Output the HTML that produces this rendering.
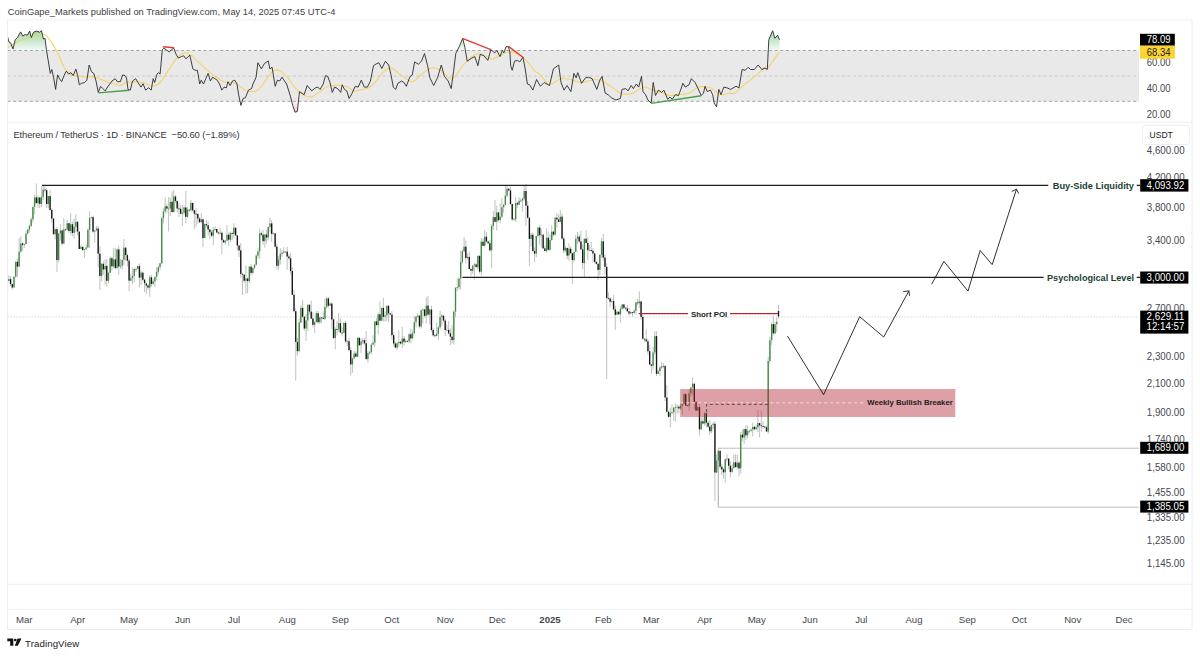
<!DOCTYPE html><html><head><meta charset="utf-8"><style>html,body{margin:0;padding:0;background:#fff;width:1200px;height:656px;overflow:hidden}svg{display:block}text{font-family:"Liberation Sans",sans-serif}</style></head><body><svg width="1200" height="656" viewBox="0 0 1200 656"><defs><linearGradient id="gg" gradientUnits="userSpaceOnUse" x1="0" y1="30" x2="0" y2="50.5"><stop offset="0" stop-color="#7fc98c" stop-opacity="0.8"/><stop offset="1" stop-color="#7fc98c" stop-opacity="0.08"/></linearGradient><linearGradient id="gr" gradientUnits="userSpaceOnUse" x1="0" y1="101.3" x2="0" y2="113"><stop offset="0" stop-color="#f7a8b0" stop-opacity="0.1"/><stop offset="1" stop-color="#f7a8b0" stop-opacity="0.75"/></linearGradient><clipPath id="cTop"><rect x="7" y="20" width="1132" height="30.5"/></clipPath><clipPath id="cBot"><rect x="7" y="101.3" width="1132" height="20"/></clipPath></defs><rect x="0" y="0" width="1200" height="656" fill="#fff"/><text x="7.7" y="14.9" font-size="9.3" fill="#3d3d3d" textLength="327.6" lengthAdjust="spacing">CoinGape_Markets published on TradingView.com, May 14, 2025 07:45 UTC-4</text><rect x="7.5" y="50.5" width="1131.5" height="50.8" fill="#e9e9e9"/><line x1="7.5" y1="50.5" x2="1139" y2="50.5" stroke="#8f9198" stroke-width="0.8" stroke-dasharray="3,2.6"/><line x1="7.5" y1="76.1" x2="1139" y2="76.1" stroke="#c2c3c7" stroke-width="0.8" stroke-dasharray="3,2.6"/><line x1="7.5" y1="101.3" x2="1139" y2="101.3" stroke="#8f9198" stroke-width="0.8" stroke-dasharray="3,2.6"/><polygon points="7.3,50.5 7.3,36.0 9.1,42.1 10.7,42.9 13.0,49.0 15.2,39.8 17.5,37.5 20.6,31.9 22.9,36.0 25.2,34.5 27.4,35.2 29.7,31.0 31.3,37.5 33.5,32.2 36.6,31.1 39.6,32.2 41.5,30.7 43.4,39.0 45.0,38.3 46.5,50.5 48.8,64.2 50.3,73.4 51.8,69.5 53.7,77.9 55.6,89.4 57.6,74.9 59.5,78.7 61.7,81.7 64.0,75.6 66.3,71.1 68.6,74.1 70.9,72.6 73.2,75.6 75.9,69.1 77.7,75.6 79.3,84.8 81.6,83.3 84.6,82.5 86.9,80.2 89.2,65.0 91.5,71.8 93.8,73.4 96.0,81.0 98.3,92.4 100.6,86.3 102.9,88.6 105.2,90.9 107.5,87.1 109.8,84.0 112.0,81.0 115.1,78.7 117.4,81.7 120.4,81.7 122.7,74.9 125.0,75.6 126.5,77.9 128.0,89.4 130.3,90.1 132.6,81.0 135.7,78.7 138.0,82.5 141.0,87.1 143.0,83.7 145.6,90.1 148.6,87.8 151.2,90.1 153.2,78.7 154.7,82.5 157.0,74.1 158.5,72.6 160.1,74.1 162.3,49.7 163.9,48.2 166.2,49.7 169.2,52.0 171.5,49.7 173.8,48.2 176.1,54.3 178.4,58.1 181.4,56.6 183.7,55.8 186.0,58.9 189.8,55.1 192.8,68.8 195.1,70.3 197.4,70.3 199.7,84.0 201.2,80.2 203.5,84.0 205.8,78.7 208.1,73.4 210.4,81.0 212.7,77.2 214.9,78.7 217.2,80.2 219.5,84.0 221.8,90.1 224.1,87.1 226.4,87.8 227.9,81.7 230.2,85.5 232.5,81.0 234.8,80.2 237.0,84.0 238.6,94.7 240.9,105.4 243.1,98.5 245.4,97.7 248.5,90.1 251.5,88.6 253.0,84.0 256.1,77.2 257.9,62.7 261.4,68.8 264.5,63.4 268.3,60.9 269.8,68.8 272.1,67.3 275.2,86.3 277.4,80.2 279.7,81.0 282.0,77.2 286.6,84.0 290.4,96.2 292.7,105.4 295.0,112.2 297.3,111.5 299.5,91.6 304.1,94.7 307.2,85.5 311.7,90.9 315.5,87.8 317.8,87.1 320.1,89.4 323.2,84.0 325.5,75.6 327.7,76.4 330.0,82.5 332.3,92.4 334.6,87.1 337.7,88.6 340.7,92.4 342.2,84.8 344.5,89.4 346.8,90.9 349.1,98.5 352.1,93.2 355.2,86.3 358.2,87.1 361.3,80.2 364.3,87.1 367.4,87.1 370.4,81.0 373.5,65.7 375.8,64.2 378.8,62.7 381.9,68.5 385.4,61.2 388.7,65.0 391.0,74.9 393.3,87.1 395.6,89.4 397.9,83.3 401.7,81.0 404.0,82.5 406.3,86.3 410.1,76.4 412.3,74.9 414.6,61.9 418.4,64.2 421.5,61.2 424.5,53.5 427.6,65.7 429.9,77.9 433.7,85.5 437.5,77.9 441.3,65.0 444.4,76.4 448.2,81.0 451.2,88.6 453.5,71.8 455.8,53.5 459.6,45.9 462.7,38.3 464.9,47.4 467.2,61.2 471.8,58.1 474.8,56.6 477.9,65.7 480.2,54.3 484.0,55.8 487.8,60.4 490.9,49.7 494.7,52.8 497.0,50.5 500.0,56.6 502.3,50.5 503.8,52.8 506.1,46.7 508.4,46.7 509.9,52.0 510.7,65.7 512.2,70.3 514.5,61.2 517.5,60.4 519.8,61.9 522.9,57.3 525.2,68.8 527.4,84.0 529.7,84.8 532.8,90.1 536.6,79.5 540.4,86.3 544.2,82.5 549.5,85.5 553.4,68.8 558.7,65.0 561.0,82.5 564.0,90.1 567.1,85.5 570.9,91.6 573.9,73.4 576.2,77.9 577.7,72.6 581.6,83.3 585.4,77.9 588.4,77.2 592.2,78.7 596.8,89.4 599.8,80.2 602.1,76.4 605.2,93.2 608.2,94.7 611.3,97.7 615.9,100.0 620.4,98.5 622.0,89.4 625.8,88.6 628.0,90.9 631.1,85.5 633.4,88.6 636.4,84.0 638.7,87.1 641.5,76.4 643.0,91.6 645.6,94.7 647.9,100.0 651.2,103.1 653.2,82.5 655.5,95.5 658.5,90.1 661.6,92.4 663.9,90.1 667.7,99.3 670.0,97.0 672.3,99.3 675.3,94.7 678.4,95.5 680.6,90.1 682.9,83.3 685.2,87.1 689.0,84.8 691.3,78.7 695.1,82.5 697.4,87.1 701.2,95.5 703.5,93.2 705.0,86.3 707.3,91.6 710.4,90.1 712.7,94.7 714.2,103.1 716.5,106.9 718.8,89.4 721.0,94.7 723.8,87.1 726.9,87.8 730.7,89.4 736.0,86.3 739.0,87.8 742.1,69.5 745.2,70.3 748.2,67.3 750.5,69.5 754.3,69.5 758.1,65.0 761.9,69.5 765.0,68.0 767.3,69.5 768.8,39.8 772.6,30.7 774.9,38.3 777.6,35.2 779.5,39.8 779.5,50.5" fill="url(#gg)" clip-path="url(#cTop)"/><polygon points="7.3,101.3 7.3,36.0 9.1,42.1 10.7,42.9 13.0,49.0 15.2,39.8 17.5,37.5 20.6,31.9 22.9,36.0 25.2,34.5 27.4,35.2 29.7,31.0 31.3,37.5 33.5,32.2 36.6,31.1 39.6,32.2 41.5,30.7 43.4,39.0 45.0,38.3 46.5,50.5 48.8,64.2 50.3,73.4 51.8,69.5 53.7,77.9 55.6,89.4 57.6,74.9 59.5,78.7 61.7,81.7 64.0,75.6 66.3,71.1 68.6,74.1 70.9,72.6 73.2,75.6 75.9,69.1 77.7,75.6 79.3,84.8 81.6,83.3 84.6,82.5 86.9,80.2 89.2,65.0 91.5,71.8 93.8,73.4 96.0,81.0 98.3,92.4 100.6,86.3 102.9,88.6 105.2,90.9 107.5,87.1 109.8,84.0 112.0,81.0 115.1,78.7 117.4,81.7 120.4,81.7 122.7,74.9 125.0,75.6 126.5,77.9 128.0,89.4 130.3,90.1 132.6,81.0 135.7,78.7 138.0,82.5 141.0,87.1 143.0,83.7 145.6,90.1 148.6,87.8 151.2,90.1 153.2,78.7 154.7,82.5 157.0,74.1 158.5,72.6 160.1,74.1 162.3,49.7 163.9,48.2 166.2,49.7 169.2,52.0 171.5,49.7 173.8,48.2 176.1,54.3 178.4,58.1 181.4,56.6 183.7,55.8 186.0,58.9 189.8,55.1 192.8,68.8 195.1,70.3 197.4,70.3 199.7,84.0 201.2,80.2 203.5,84.0 205.8,78.7 208.1,73.4 210.4,81.0 212.7,77.2 214.9,78.7 217.2,80.2 219.5,84.0 221.8,90.1 224.1,87.1 226.4,87.8 227.9,81.7 230.2,85.5 232.5,81.0 234.8,80.2 237.0,84.0 238.6,94.7 240.9,105.4 243.1,98.5 245.4,97.7 248.5,90.1 251.5,88.6 253.0,84.0 256.1,77.2 257.9,62.7 261.4,68.8 264.5,63.4 268.3,60.9 269.8,68.8 272.1,67.3 275.2,86.3 277.4,80.2 279.7,81.0 282.0,77.2 286.6,84.0 290.4,96.2 292.7,105.4 295.0,112.2 297.3,111.5 299.5,91.6 304.1,94.7 307.2,85.5 311.7,90.9 315.5,87.8 317.8,87.1 320.1,89.4 323.2,84.0 325.5,75.6 327.7,76.4 330.0,82.5 332.3,92.4 334.6,87.1 337.7,88.6 340.7,92.4 342.2,84.8 344.5,89.4 346.8,90.9 349.1,98.5 352.1,93.2 355.2,86.3 358.2,87.1 361.3,80.2 364.3,87.1 367.4,87.1 370.4,81.0 373.5,65.7 375.8,64.2 378.8,62.7 381.9,68.5 385.4,61.2 388.7,65.0 391.0,74.9 393.3,87.1 395.6,89.4 397.9,83.3 401.7,81.0 404.0,82.5 406.3,86.3 410.1,76.4 412.3,74.9 414.6,61.9 418.4,64.2 421.5,61.2 424.5,53.5 427.6,65.7 429.9,77.9 433.7,85.5 437.5,77.9 441.3,65.0 444.4,76.4 448.2,81.0 451.2,88.6 453.5,71.8 455.8,53.5 459.6,45.9 462.7,38.3 464.9,47.4 467.2,61.2 471.8,58.1 474.8,56.6 477.9,65.7 480.2,54.3 484.0,55.8 487.8,60.4 490.9,49.7 494.7,52.8 497.0,50.5 500.0,56.6 502.3,50.5 503.8,52.8 506.1,46.7 508.4,46.7 509.9,52.0 510.7,65.7 512.2,70.3 514.5,61.2 517.5,60.4 519.8,61.9 522.9,57.3 525.2,68.8 527.4,84.0 529.7,84.8 532.8,90.1 536.6,79.5 540.4,86.3 544.2,82.5 549.5,85.5 553.4,68.8 558.7,65.0 561.0,82.5 564.0,90.1 567.1,85.5 570.9,91.6 573.9,73.4 576.2,77.9 577.7,72.6 581.6,83.3 585.4,77.9 588.4,77.2 592.2,78.7 596.8,89.4 599.8,80.2 602.1,76.4 605.2,93.2 608.2,94.7 611.3,97.7 615.9,100.0 620.4,98.5 622.0,89.4 625.8,88.6 628.0,90.9 631.1,85.5 633.4,88.6 636.4,84.0 638.7,87.1 641.5,76.4 643.0,91.6 645.6,94.7 647.9,100.0 651.2,103.1 653.2,82.5 655.5,95.5 658.5,90.1 661.6,92.4 663.9,90.1 667.7,99.3 670.0,97.0 672.3,99.3 675.3,94.7 678.4,95.5 680.6,90.1 682.9,83.3 685.2,87.1 689.0,84.8 691.3,78.7 695.1,82.5 697.4,87.1 701.2,95.5 703.5,93.2 705.0,86.3 707.3,91.6 710.4,90.1 712.7,94.7 714.2,103.1 716.5,106.9 718.8,89.4 721.0,94.7 723.8,87.1 726.9,87.8 730.7,89.4 736.0,86.3 739.0,87.8 742.1,69.5 745.2,70.3 748.2,67.3 750.5,69.5 754.3,69.5 758.1,65.0 761.9,69.5 765.0,68.0 767.3,69.5 768.8,39.8 772.6,30.7 774.9,38.3 777.6,35.2 779.5,39.8 779.5,101.3" fill="url(#gr)" clip-path="url(#cBot)"/><path d="M7.3 48.2C8.6 47.3 12.6 44.3 15.2 42.9C17.8 41.5 20.3 40.7 22.9 39.8C25.4 38.9 28.2 38.3 30.5 37.5C32.8 36.7 34.7 35.8 36.6 35.2C38.5 34.6 40.4 33.7 41.9 33.7C43.4 33.7 44.1 33.7 45.7 35.2C47.4 36.7 49.8 39.9 51.8 42.9C53.8 45.9 55.9 49.4 57.9 53.5C59.9 57.6 62.0 63.9 64.0 67.3C66.0 70.7 68.1 72.7 70.1 74.1C72.1 75.5 73.9 75.2 76.2 75.6C78.5 76.0 81.2 76.5 83.8 76.7C86.3 76.9 89.2 76.5 91.5 76.7C93.8 76.9 95.1 77.1 97.6 77.9C100.1 78.7 103.9 80.7 106.7 81.7C109.5 82.7 112.0 83.4 114.3 84.0C116.6 84.6 118.4 85.8 120.4 85.5C122.4 85.2 123.7 83.1 126.5 82.5C129.3 81.9 134.1 81.6 137.2 81.7C140.2 81.8 142.3 82.5 144.8 83.3C147.3 84.1 149.9 86.4 152.4 86.3C154.9 86.2 157.8 84.7 160.1 82.5C162.4 80.3 164.2 76.5 166.2 73.4C168.2 70.4 170.4 66.9 172.3 64.2C174.2 61.5 175.6 59.2 177.6 57.3C179.6 55.4 182.3 53.2 184.5 52.8C186.7 52.4 188.2 53.6 190.5 55.1C192.8 56.6 195.4 59.4 198.2 61.9C201.0 64.4 204.2 67.8 207.3 70.3C210.4 72.8 213.7 75.3 216.5 77.2C219.3 79.1 221.0 80.7 224.1 81.7C227.2 82.7 232.0 82.4 234.8 83.3C237.6 84.2 238.9 85.8 240.9 87.1C242.9 88.4 244.5 90.3 247.0 90.9C249.5 91.5 253.6 91.8 256.1 90.9C258.6 90.0 260.2 87.9 262.2 85.5C264.2 83.1 266.3 78.9 268.3 76.4C270.3 73.9 272.4 71.2 274.4 70.3C276.4 69.4 278.2 69.8 280.5 71.1C282.8 72.4 285.6 75.0 288.1 77.9C290.6 80.8 293.1 85.8 295.7 88.6C298.2 91.4 300.8 93.3 303.4 94.7C305.9 96.1 308.5 97.4 311.0 97.0C313.5 96.6 316.1 94.1 318.6 92.4C321.1 90.8 323.9 88.2 326.2 87.1C328.5 85.9 329.8 85.8 332.3 85.5C334.9 85.2 338.9 85.2 341.5 85.5C344.1 85.8 345.6 86.2 347.6 87.1C349.6 88.0 351.7 90.4 353.7 90.9C355.7 91.4 357.3 90.6 359.8 90.1C362.3 89.6 366.4 89.1 368.9 87.8C371.4 86.5 372.7 85.0 375.0 82.5C377.3 80.0 379.9 75.0 382.6 72.6C385.3 70.2 387.9 67.6 391.0 68.0C394.1 68.4 397.3 72.6 400.9 74.9C404.4 77.2 409.0 81.7 412.3 81.7C415.6 81.7 417.5 77.2 420.7 74.9C423.9 72.6 428.1 68.8 431.4 68.0C434.7 67.2 437.1 68.5 440.5 70.3C443.9 72.1 448.2 79.6 452.0 78.7C455.8 77.8 459.5 69.1 463.4 65.0C467.3 60.9 472.0 55.8 475.6 54.3C479.2 52.8 482.2 55.0 484.8 55.8C487.4 56.6 488.4 58.9 490.9 58.9C493.4 58.9 497.0 56.9 500.0 55.8C503.0 54.6 505.3 51.8 509.1 52.0C512.9 52.2 518.7 54.2 522.9 57.3C527.1 60.3 531.2 67.2 534.3 70.3C537.3 73.3 538.7 73.2 541.2 75.6C543.7 78.0 546.3 84.3 549.5 84.8C552.7 85.3 556.8 79.6 560.2 78.7C563.6 77.8 566.7 78.9 570.1 79.5C573.5 80.1 576.7 82.5 580.8 82.5C584.9 82.5 590.7 79.6 594.5 79.5C598.3 79.4 600.1 79.9 603.7 81.7C607.3 83.5 612.9 88.1 615.9 90.1C618.9 92.1 619.2 93.4 622.0 93.9C624.8 94.4 628.9 94.3 632.6 93.2C636.3 92.1 640.7 87.6 644.0 87.1C647.3 86.6 649.5 89.2 652.4 90.1C655.3 91.0 658.8 91.5 661.6 92.4C664.4 93.3 666.4 95.1 669.2 95.5C672.0 95.9 675.1 95.1 678.4 94.7C681.7 94.3 685.7 94.5 689.0 93.2C692.3 91.9 695.2 88.1 698.2 87.1C701.2 86.1 704.8 86.7 707.3 87.1C709.8 87.5 711.4 88.1 713.4 89.4C715.4 90.7 717.0 94.1 719.5 94.7C722.0 95.3 726.2 93.5 728.7 93.2C731.2 93.0 732.8 94.1 734.8 93.2C736.8 92.3 738.9 89.6 740.9 87.8C742.9 86.0 744.6 84.4 747.0 82.5C749.4 80.6 752.2 78.8 755.1 76.4C758.0 74.0 762.2 69.3 764.2 68.0C766.2 66.7 765.8 69.8 767.3 68.5C768.8 67.2 771.4 63.1 773.4 60.4C775.4 57.6 778.5 53.4 779.5 52.0" fill="none" stroke="#f5d262" stroke-width="1.05"/><polyline points="7.3,36.0 9.1,42.1 10.7,42.9 13.0,49.0 15.2,39.8 17.5,37.5 20.6,31.9 22.9,36.0 25.2,34.5 27.4,35.2 29.7,31.0 31.3,37.5 33.5,32.2 36.6,31.1 39.6,32.2 41.5,30.7 43.4,39.0 45.0,38.3 46.5,50.5 48.8,64.2 50.3,73.4 51.8,69.5 53.7,77.9 55.6,89.4 57.6,74.9 59.5,78.7 61.7,81.7 64.0,75.6 66.3,71.1 68.6,74.1 70.9,72.6 73.2,75.6 75.9,69.1 77.7,75.6 79.3,84.8 81.6,83.3 84.6,82.5 86.9,80.2 89.2,65.0 91.5,71.8 93.8,73.4 96.0,81.0 98.3,92.4 100.6,86.3 102.9,88.6 105.2,90.9 107.5,87.1 109.8,84.0 112.0,81.0 115.1,78.7 117.4,81.7 120.4,81.7 122.7,74.9 125.0,75.6 126.5,77.9 128.0,89.4 130.3,90.1 132.6,81.0 135.7,78.7 138.0,82.5 141.0,87.1 143.0,83.7 145.6,90.1 148.6,87.8 151.2,90.1 153.2,78.7 154.7,82.5 157.0,74.1 158.5,72.6 160.1,74.1 162.3,49.7 163.9,48.2 166.2,49.7 169.2,52.0 171.5,49.7 173.8,48.2 176.1,54.3 178.4,58.1 181.4,56.6 183.7,55.8 186.0,58.9 189.8,55.1 192.8,68.8 195.1,70.3 197.4,70.3 199.7,84.0 201.2,80.2 203.5,84.0 205.8,78.7 208.1,73.4 210.4,81.0 212.7,77.2 214.9,78.7 217.2,80.2 219.5,84.0 221.8,90.1 224.1,87.1 226.4,87.8 227.9,81.7 230.2,85.5 232.5,81.0 234.8,80.2 237.0,84.0 238.6,94.7 240.9,105.4 243.1,98.5 245.4,97.7 248.5,90.1 251.5,88.6 253.0,84.0 256.1,77.2 257.9,62.7 261.4,68.8 264.5,63.4 268.3,60.9 269.8,68.8 272.1,67.3 275.2,86.3 277.4,80.2 279.7,81.0 282.0,77.2 286.6,84.0 290.4,96.2 292.7,105.4 295.0,112.2 297.3,111.5 299.5,91.6 304.1,94.7 307.2,85.5 311.7,90.9 315.5,87.8 317.8,87.1 320.1,89.4 323.2,84.0 325.5,75.6 327.7,76.4 330.0,82.5 332.3,92.4 334.6,87.1 337.7,88.6 340.7,92.4 342.2,84.8 344.5,89.4 346.8,90.9 349.1,98.5 352.1,93.2 355.2,86.3 358.2,87.1 361.3,80.2 364.3,87.1 367.4,87.1 370.4,81.0 373.5,65.7 375.8,64.2 378.8,62.7 381.9,68.5 385.4,61.2 388.7,65.0 391.0,74.9 393.3,87.1 395.6,89.4 397.9,83.3 401.7,81.0 404.0,82.5 406.3,86.3 410.1,76.4 412.3,74.9 414.6,61.9 418.4,64.2 421.5,61.2 424.5,53.5 427.6,65.7 429.9,77.9 433.7,85.5 437.5,77.9 441.3,65.0 444.4,76.4 448.2,81.0 451.2,88.6 453.5,71.8 455.8,53.5 459.6,45.9 462.7,38.3 464.9,47.4 467.2,61.2 471.8,58.1 474.8,56.6 477.9,65.7 480.2,54.3 484.0,55.8 487.8,60.4 490.9,49.7 494.7,52.8 497.0,50.5 500.0,56.6 502.3,50.5 503.8,52.8 506.1,46.7 508.4,46.7 509.9,52.0 510.7,65.7 512.2,70.3 514.5,61.2 517.5,60.4 519.8,61.9 522.9,57.3 525.2,68.8 527.4,84.0 529.7,84.8 532.8,90.1 536.6,79.5 540.4,86.3 544.2,82.5 549.5,85.5 553.4,68.8 558.7,65.0 561.0,82.5 564.0,90.1 567.1,85.5 570.9,91.6 573.9,73.4 576.2,77.9 577.7,72.6 581.6,83.3 585.4,77.9 588.4,77.2 592.2,78.7 596.8,89.4 599.8,80.2 602.1,76.4 605.2,93.2 608.2,94.7 611.3,97.7 615.9,100.0 620.4,98.5 622.0,89.4 625.8,88.6 628.0,90.9 631.1,85.5 633.4,88.6 636.4,84.0 638.7,87.1 641.5,76.4 643.0,91.6 645.6,94.7 647.9,100.0 651.2,103.1 653.2,82.5 655.5,95.5 658.5,90.1 661.6,92.4 663.9,90.1 667.7,99.3 670.0,97.0 672.3,99.3 675.3,94.7 678.4,95.5 680.6,90.1 682.9,83.3 685.2,87.1 689.0,84.8 691.3,78.7 695.1,82.5 697.4,87.1 701.2,95.5 703.5,93.2 705.0,86.3 707.3,91.6 710.4,90.1 712.7,94.7 714.2,103.1 716.5,106.9 718.8,89.4 721.0,94.7 723.8,87.1 726.9,87.8 730.7,89.4 736.0,86.3 739.0,87.8 742.1,69.5 745.2,70.3 748.2,67.3 750.5,69.5 754.3,69.5 758.1,65.0 761.9,69.5 765.0,68.0 767.3,69.5 768.8,39.8 772.6,30.7 774.9,38.3 777.6,35.2 779.5,39.8" fill="none" stroke="#2b2b2b" stroke-width="0.9" stroke-linejoin="round"/><line x1="98.3" y1="92.9" x2="129.3" y2="90.2" stroke="#43a047" stroke-width="1.4"/><line x1="162.8" y1="46.7" x2="174.1" y2="47.7" stroke="#e53935" stroke-width="1.4"/><line x1="462.3" y1="38.3" x2="490.9" y2="49.7" stroke="#e53935" stroke-width="1.4"/><line x1="508.4" y1="46.4" x2="523.6" y2="57.8" stroke="#e53935" stroke-width="1.4"/><line x1="651.2" y1="103.4" x2="701.2" y2="95.8" stroke="#43a047" stroke-width="1.4"/><text x="1146.8" y="66.0" font-size="10" fill="#454852" textLength="23.7" lengthAdjust="spacingAndGlyphs">60.00</text><text x="1146.8" y="91.7" font-size="10" fill="#454852" textLength="23.7" lengthAdjust="spacingAndGlyphs">40.00</text><text x="1146.8" y="117.5" font-size="10" fill="#454852" textLength="23.7" lengthAdjust="spacingAndGlyphs">20.00</text><rect x="1140" y="33.8" width="34.8" height="11.9" fill="#000"/><text x="1146.8" y="43.2" font-size="10" fill="#fff" textLength="23.7" lengthAdjust="spacingAndGlyphs">78.09</text><rect x="1140" y="45.7" width="34.8" height="13" fill="#fbd432"/><text x="1146.8" y="55.9" font-size="10" fill="#222" textLength="23.7" lengthAdjust="spacingAndGlyphs">68.34</text><rect x="7.5" y="19.9" width="1184.5" height="609.7" fill="none" stroke="#eceef2" stroke-width="1"/><line x1="7.5" y1="122.2" x2="1192" y2="122.2" stroke="#eceef2" stroke-width="1"/><line x1="7.5" y1="584.3" x2="1192" y2="584.3" stroke="#eceef2" stroke-width="1"/><line x1="7.5" y1="609.3" x2="1192" y2="609.3" stroke="#eceef2" stroke-width="1"/><text x="13.5" y="137.8" font-size="9.4" fill="#33353a" textLength="226" lengthAdjust="spacing" xml:space="preserve">Ethereum / TetherUS · 1D · BINANCE  −50.60 (−1.89%)</text><rect x="1142.4" y="125.4" width="47.3" height="19.1" rx="3" fill="#fff" stroke="#e9eaee" stroke-width="0.8"/><text x="1149.5" y="138.1" font-size="9.4" fill="#222" textLength="23.3" lengthAdjust="spacingAndGlyphs">USDT</text><text x="1146.8" y="154.3" font-size="10" fill="#454852" textLength="37.9" lengthAdjust="spacingAndGlyphs">4,600.00</text><text x="1146.8" y="181.2" font-size="10" fill="#454852" textLength="37.9" lengthAdjust="spacingAndGlyphs">4,200.00</text><text x="1146.8" y="210.9" font-size="10" fill="#454852" textLength="37.9" lengthAdjust="spacingAndGlyphs">3,800.00</text><text x="1146.8" y="243.9" font-size="10" fill="#454852" textLength="37.9" lengthAdjust="spacingAndGlyphs">3,400.00</text><text x="1146.8" y="312.3" font-size="10" fill="#454852" textLength="37.9" lengthAdjust="spacingAndGlyphs">2,700.00</text><text x="1146.8" y="359.8" font-size="10" fill="#454852" textLength="37.9" lengthAdjust="spacingAndGlyphs">2,300.00</text><text x="1146.8" y="386.8" font-size="10" fill="#454852" textLength="37.9" lengthAdjust="spacingAndGlyphs">2,100.00</text><text x="1146.8" y="416.4" font-size="10" fill="#454852" textLength="37.9" lengthAdjust="spacingAndGlyphs">1,900.00</text><text x="1146.8" y="442.5" font-size="10" fill="#454852" textLength="37.9" lengthAdjust="spacingAndGlyphs">1,740.00</text><text x="1146.8" y="471.1" font-size="10" fill="#454852" textLength="37.9" lengthAdjust="spacingAndGlyphs">1,580.00</text><text x="1146.8" y="495.6" font-size="10" fill="#454852" textLength="37.9" lengthAdjust="spacingAndGlyphs">1,455.00</text><text x="1146.8" y="521.1" font-size="10" fill="#454852" textLength="37.9" lengthAdjust="spacingAndGlyphs">1,335.00</text><text x="1146.8" y="544.2" font-size="10" fill="#454852" textLength="37.9" lengthAdjust="spacingAndGlyphs">1,235.00</text><text x="1146.8" y="566.6" font-size="10" fill="#454852" textLength="37.9" lengthAdjust="spacingAndGlyphs">1,145.00</text><line x1="7.5" y1="317" x2="1139" y2="317" stroke="#cfd1d5" stroke-width="0.9" stroke-dasharray="1.6,1.4"/><polyline points="1139,448.2 718.3,448.2 718.3,507.2 1139,507.2" fill="none" stroke="#bdbdbd" stroke-width="1"/><path d="M8.84 275.3V281.3M10.56 276.3V285.7M12.27 283.9V289.5M13.99 276.4V287.8M15.71 261.4V277.6M17.43 258.3V277.2M19.15 238.2V266.8M20.86 236.4V252.9M22.58 242.1V250.9M24.30 243.4V247.9M26.02 230.6V244.3M27.74 229.2V234.3M29.45 224.5V232.6M31.17 217.2V227.2M32.89 206.0V222.4M34.61 194.7V214.5M36.33 183.3V203.6M38.04 195.5V208.2M39.76 197.3V207.9M41.48 186.0V207.0M43.20 185.3V200.2M44.92 186.4V192.4M46.63 187.9V208.0M48.35 195.8V208.4M50.07 189.9V211.1M51.79 208.2V222.6M53.51 217.9V234.6M55.22 228.9V239.5M56.94 227.3V272.0M58.66 233.1V262.2M60.38 224.4V240.6M62.10 229.4V245.5M63.81 218.0V244.2M65.53 228.7V230.4M67.25 220.0V230.5M68.97 223.2V232.9M70.69 213.2V235.2M72.40 221.6V236.4M74.12 218.6V238.4M75.84 214.4V232.6M77.56 221.4V235.2M79.28 231.3V249.2M80.99 245.3V249.1M82.71 246.8V250.7M84.43 249.1V257.6M86.15 244.1V249.8M87.87 228.3V248.0M89.58 211.3V247.8M91.30 216.9V218.5M93.02 215.7V232.7M94.74 230.4V242.5M96.46 225.8V231.1M98.17 225.8V267.5M99.89 246.5V290.0M101.61 263.1V281.2M103.33 261.1V274.9M105.05 259.9V284.6M106.76 259.0V286.7M108.48 271.8V283.4M110.20 256.6V272.9M111.92 257.1V270.6M113.64 248.1V268.5M115.35 248.3V269.7M117.07 248.5V269.0M118.79 245.8V274.8M120.51 259.1V268.8M122.23 259.6V269.6M123.94 239.1V265.4M125.66 247.0V260.7M127.38 253.6V266.4M129.10 258.8V291.2M130.82 273.6V281.3M132.53 267.4V284.1M134.25 268.4V282.2M135.97 267.4V271.9M137.69 265.6V269.0M139.41 263.4V287.4M141.12 270.6V285.0M142.84 271.6V281.0M144.56 278.7V292.0M146.28 282.9V294.1M148.00 283.9V289.8M149.71 275.4V296.6M151.43 274.8V286.7M153.15 279.2V284.7M154.87 276.9V287.1M156.59 267.3V279.9M158.30 265.7V274.6M160.02 262.9V270.1M161.74 217.2V264.5M163.46 208.4V223.4M165.18 197.5V213.5M166.89 203.7V212.8M168.61 197.0V231.5M170.33 197.5V216.0M172.05 191.6V213.0M173.77 189.9V212.5M175.48 195.0V203.0M177.20 200.6V212.4M178.92 202.9V217.0M180.64 204.9V214.4M182.36 205.0V226.1M184.07 205.7V215.1M185.79 191.0V223.3M187.51 207.1V218.3M189.23 208.9V211.5M190.95 199.9V212.2M192.66 202.8V211.7M194.38 210.0V228.9M196.10 208.2V226.7M197.82 213.8V223.9M199.54 217.4V222.7M201.25 213.2V223.3M202.97 218.8V247.1M204.69 223.7V238.2M206.41 219.9V227.3M208.13 221.6V235.3M209.84 229.1V239.3M211.56 230.1V237.2M213.28 227.1V245.1M215.00 226.3V231.0M216.72 228.6V233.2M218.43 231.2V234.6M220.15 227.7V234.5M221.87 231.3V254.0M223.59 239.0V242.5M225.31 240.0V244.8M227.02 225.0V241.2M228.74 232.4V246.2M230.46 231.5V242.2M232.18 231.7V240.5M233.90 223.3V237.7M235.61 227.5V235.9M237.33 235.2V250.4M239.05 245.2V257.0M240.77 243.1V277.9M242.49 272.6V295.0M244.20 274.1V282.9M245.92 265.6V293.6M247.64 277.5V293.3M249.36 266.6V282.9M251.08 264.3V275.4M252.79 267.8V274.0M254.51 264.4V269.6M256.23 254.3V265.7M257.95 248.1V258.3M259.67 228.7V258.9M261.38 231.5V236.2M263.10 230.1V244.8M264.82 234.3V247.6M266.54 229.7V243.5M268.26 226.5V240.2M269.97 217.5V233.3M271.69 220.3V241.9M273.41 232.5V234.0M275.13 232.9V248.2M276.85 243.7V269.4M278.56 256.1V269.9M280.28 248.1V264.6M282.00 250.2V256.6M283.72 246.9V253.8M285.44 251.3V252.8M287.15 246.7V269.9M288.87 254.1V260.0M290.59 253.1V274.4M292.31 267.3V295.1M294.03 289.9V312.5M295.74 308.2V380.7M297.46 337.9V355.4M299.18 318.5V352.4M300.90 305.5V323.0M302.62 299.7V317.5M304.33 316.7V330.7M306.05 314.2V340.9M307.77 304.0V330.9M309.49 304.0V314.7M311.21 300.6V319.0M312.92 312.3V327.4M314.64 321.2V333.0M316.36 310.8V322.2M318.08 311.0V323.5M319.80 316.8V323.7M321.51 317.4V322.8M323.23 311.3V319.3M324.95 298.5V320.1M326.67 296.7V308.7M328.39 296.8V307.7M330.10 302.4V305.8M331.82 302.3V329.3M333.54 318.4V339.1M335.26 327.4V349.3M336.98 321.3V335.3M338.69 313.0V332.2M340.41 318.6V332.7M342.13 327.5V336.4M343.85 321.7V332.9M345.57 320.6V342.9M347.28 340.1V346.2M349.00 337.5V351.4M350.72 347.2V375.6M352.44 357.5V372.9M354.16 351.0V359.3M355.87 351.4V357.2M357.59 337.1V357.0M359.31 336.9V346.2M361.03 338.3V353.0M362.75 338.2V344.0M364.46 338.4V344.8M366.18 331.0V359.6M367.90 350.7V362.7M369.62 350.9V354.2M371.34 342.9V354.2M373.05 335.3V344.8M374.77 321.4V347.1M376.49 318.3V325.2M378.21 312.5V334.6M379.93 301.4V321.6M381.64 307.5V321.2M383.36 297.7V321.3M385.08 311.6V321.9M386.80 305.6V320.9M388.52 304.8V322.4M390.23 312.8V315.6M391.95 310.9V339.5M393.67 332.5V346.6M395.39 341.7V348.4M397.11 342.0V349.7M398.82 330.4V347.0M400.54 341.0V344.5M402.26 326.9V347.9M403.98 336.0V345.8M405.70 339.0V342.9M407.41 340.0V341.3M409.13 332.8V343.2M410.85 328.6V343.3M412.57 330.6V339.3M414.29 316.1V334.0M416.00 315.8V327.4M417.72 313.2V317.5M419.44 314.8V328.4M421.16 309.7V328.2M422.88 308.6V323.4M424.59 309.2V317.6M426.31 297.3V323.6M428.03 295.9V316.0M429.75 308.7V324.4M431.47 305.5V331.7M433.18 328.3V336.8M434.90 334.2V337.5M436.62 322.6V336.4M438.34 325.8V340.0M440.06 310.9V329.4M441.77 314.0V326.2M443.49 314.9V322.2M445.21 318.7V336.0M446.93 324.7V330.1M448.65 320.9V334.5M450.36 328.5V345.0M452.08 325.3V343.6M453.80 310.5V344.6M455.52 287.7V316.7M457.24 278.3V291.3M458.95 277.6V289.5M460.67 250.6V289.6M462.39 249.3V264.4M464.11 237.2V252.0M465.83 240.5V263.4M467.54 253.6V259.5M469.26 251.4V269.3M470.98 268.2V275.8M472.70 265.4V273.6M474.42 263.0V279.7M476.13 263.3V267.4M477.85 255.5V269.6M479.57 255.0V273.6M481.29 238.2V275.7M483.01 237.8V246.3M484.72 230.1V247.1M486.44 231.9V242.4M488.16 240.6V244.3M489.88 240.2V251.8M491.60 224.2V267.9M493.31 211.2V229.8M495.03 200.2V222.2M496.75 205.8V230.7M498.47 212.3V221.4M500.19 203.6V223.3M501.90 197.8V218.3M503.62 203.8V212.7M505.34 185.2V205.3M507.06 186.0V197.4M508.78 188.2V191.3M510.49 186.7V204.7M512.21 203.9V220.8M513.93 218.0V220.2M515.65 197.5V222.2M517.37 201.4V207.5M519.08 197.2V205.0M520.80 198.7V202.1M522.52 197.5V211.6M524.24 185.0V200.8M525.96 183.8V226.2M527.67 201.0V218.5M529.39 217.7V266.0M531.11 232.9V246.6M532.83 232.6V251.7M534.55 247.3V262.2M536.26 235.6V257.1M537.98 227.0V237.2M539.70 224.9V244.6M541.42 228.8V247.5M543.14 233.9V248.9M544.85 246.0V251.2M546.57 228.3V252.7M548.29 231.4V250.5M550.01 234.5V250.7M551.73 225.3V240.8M553.44 230.8V236.4M555.16 217.2V235.6M556.88 213.1V227.6M558.60 214.3V222.0M560.32 210.2V222.3M562.03 213.2V239.9M563.75 236.6V253.6M565.47 245.8V252.5M567.19 247.8V259.1M568.91 243.5V261.1M570.62 246.5V254.0M572.34 252.8V284.0M574.06 251.5V262.2M575.78 235.1V252.1M577.50 231.9V244.2M579.21 234.1V243.2M580.93 230.7V250.0M582.65 244.7V269.1M584.37 238.0V277.4M586.09 229.8V243.6M587.80 237.3V259.9M589.52 244.9V250.9M591.24 241.8V252.0M592.96 248.3V262.6M594.68 252.7V262.9M596.39 261.7V264.6M598.11 263.3V279.8M599.83 254.3V275.4M601.55 237.8V257.7M603.27 233.9V260.6M604.98 254.5V274.6M606.70 263.3V379.0M608.42 292.3V299.6M610.14 296.9V306.9M611.86 298.9V302.4M613.57 294.9V310.4M615.29 305.7V329.7M617.01 310.4V314.8M618.73 311.6V314.9M620.45 306.1V322.5M622.16 303.8V309.6M623.88 304.3V309.3M625.60 307.3V310.0M627.32 305.2V312.1M629.04 307.8V315.8M630.75 311.2V314.1M632.47 311.8V316.6M634.19 308.9V314.0M635.91 302.4V314.5M637.63 298.7V305.3M639.34 291.4V307.9M641.06 301.2V319.6M642.78 315.0V339.7M644.50 338.7V342.3M646.22 329.2V341.8M647.93 338.7V354.9M649.65 345.2V365.1M651.37 364.2V373.7M653.09 346.9V370.3M654.81 331.2V354.6M656.52 331.2V375.9M658.24 370.1V373.9M659.96 366.1V376.1M661.68 361.8V368.7M663.40 363.2V368.3M665.11 365.0V401.2M666.83 385.4V412.7M668.55 410.7V417.8M670.27 407.8V427.2M671.99 404.5V414.1M673.70 406.8V420.7M675.42 403.1V421.7M677.14 404.4V413.6M678.86 404.6V413.2M680.58 402.9V409.9M682.29 403.6V414.6M684.01 393.6V404.0M685.73 392.7V406.0M687.45 405.3V405.9M689.17 389.0V410.6M690.88 387.2V396.5M692.60 377.5V395.4M694.32 383.4V409.1M696.04 401.4V411.3M697.76 406.6V410.6M699.47 403.5V435.5M701.19 417.7V430.5M702.91 416.2V424.3M704.63 411.8V425.5M706.35 412.0V427.2M708.06 421.0V428.1M709.78 419.8V434.6M711.50 424.8V433.1M713.22 422.3V429.3M714.94 421.0V500.8M716.65 454.3V473.2M718.37 450.8V506.5M720.09 450.8V469.2M721.81 464.3V475.1M723.53 467.8V478.7M725.24 458.3V482.6M726.96 454.2V461.9M728.68 458.2V469.4M730.40 461.5V477.4M732.12 464.7V473.4M733.83 454.3V468.5M735.55 454.4V467.2M737.27 454.4V469.7M738.99 461.0V476.2M740.71 432.0V473.5M742.42 429.7V441.3M744.14 428.5V444.2M745.86 425.2V440.2M747.58 425.5V438.4M749.30 430.2V433.1M751.01 428.7V432.0M752.73 422.6V436.2M754.45 425.9V430.6M756.17 424.6V429.8M757.89 409.8V432.0M759.60 422.7V437.2M761.32 410.6V431.9M763.04 421.5V428.6M764.76 426.1V428.1M766.48 425.5V431.6M768.19 356.8V434.0M769.91 336.7V363.3M771.63 322.3V345.2M773.35 315.6V335.4M775.07 322.2V334.3M776.78 317.2V331.8M778.50 304.8V318.5" stroke="#b9b9b9" stroke-width="0.9" fill="none"/><g fill="#3c8d40"><rect x="8.16" y="279.1" width="1.35" height="2.0"/><rect x="13.32" y="276.7" width="1.35" height="10.8"/><rect x="15.04" y="261.8" width="1.35" height="14.8"/><rect x="18.47" y="251.6" width="1.35" height="15.0"/><rect x="20.19" y="243.4" width="1.35" height="8.2"/><rect x="23.62" y="244.1" width="1.35" height="0.8"/><rect x="25.34" y="233.5" width="1.35" height="10.6"/><rect x="27.06" y="229.5" width="1.35" height="4.0"/><rect x="28.78" y="225.9" width="1.35" height="3.6"/><rect x="30.50" y="219.3" width="1.35" height="6.6"/><rect x="32.22" y="207.0" width="1.35" height="12.3"/><rect x="33.93" y="197.4" width="1.35" height="9.6"/><rect x="37.37" y="197.5" width="1.35" height="5.7"/><rect x="40.81" y="197.0" width="1.35" height="7.0"/><rect x="42.52" y="189.6" width="1.35" height="7.4"/><rect x="47.68" y="196.1" width="1.35" height="8.0"/><rect x="54.55" y="229.1" width="1.35" height="5.1"/><rect x="57.98" y="233.4" width="1.35" height="26.6"/><rect x="59.70" y="230.5" width="1.35" height="2.9"/><rect x="63.14" y="229.4" width="1.35" height="14.2"/><rect x="66.58" y="223.2" width="1.35" height="6.3"/><rect x="70.01" y="224.2" width="1.35" height="6.7"/><rect x="73.45" y="226.8" width="1.35" height="6.1"/><rect x="75.17" y="221.8" width="1.35" height="5.0"/><rect x="80.32" y="246.8" width="1.35" height="2.1"/><rect x="83.75" y="249.2" width="1.35" height="0.9"/><rect x="85.47" y="247.5" width="1.35" height="1.7"/><rect x="87.19" y="229.9" width="1.35" height="17.5"/><rect x="88.91" y="218.1" width="1.35" height="11.8"/><rect x="90.63" y="217.2" width="1.35" height="0.9"/><rect x="94.06" y="230.5" width="1.35" height="1.1"/><rect x="95.78" y="228.5" width="1.35" height="2.0"/><rect x="100.94" y="263.8" width="1.35" height="12.1"/><rect x="104.37" y="265.9" width="1.35" height="3.6"/><rect x="107.81" y="272.8" width="1.35" height="8.0"/><rect x="109.53" y="258.2" width="1.35" height="14.6"/><rect x="112.96" y="259.4" width="1.35" height="6.9"/><rect x="116.40" y="249.4" width="1.35" height="18.7"/><rect x="119.83" y="265.7" width="1.35" height="0.8"/><rect x="121.55" y="259.9" width="1.35" height="5.8"/><rect x="123.27" y="247.7" width="1.35" height="12.1"/><rect x="130.14" y="278.2" width="1.35" height="2.5"/><rect x="131.86" y="275.9" width="1.35" height="2.3"/><rect x="133.58" y="269.0" width="1.35" height="6.9"/><rect x="135.29" y="269.0" width="1.35" height="0.8"/><rect x="137.01" y="266.1" width="1.35" height="2.9"/><rect x="140.45" y="272.7" width="1.35" height="4.9"/><rect x="149.04" y="277.3" width="1.35" height="10.3"/><rect x="152.47" y="281.3" width="1.35" height="2.7"/><rect x="154.19" y="276.9" width="1.35" height="4.4"/><rect x="155.91" y="271.9" width="1.35" height="5.0"/><rect x="157.63" y="267.1" width="1.35" height="4.8"/><rect x="159.35" y="263.3" width="1.35" height="3.8"/><rect x="161.06" y="218.2" width="1.35" height="45.1"/><rect x="162.78" y="211.4" width="1.35" height="6.8"/><rect x="164.50" y="206.3" width="1.35" height="5.1"/><rect x="167.94" y="208.5" width="1.35" height="0.8"/><rect x="169.66" y="201.8" width="1.35" height="6.6"/><rect x="173.09" y="196.5" width="1.35" height="15.5"/><rect x="181.68" y="212.7" width="1.35" height="1.1"/><rect x="183.40" y="207.5" width="1.35" height="5.2"/><rect x="186.84" y="209.7" width="1.35" height="7.2"/><rect x="190.27" y="202.9" width="1.35" height="7.2"/><rect x="200.58" y="219.3" width="1.35" height="2.8"/><rect x="204.01" y="224.1" width="1.35" height="14.0"/><rect x="212.60" y="230.0" width="1.35" height="5.7"/><rect x="214.32" y="229.0" width="1.35" height="1.0"/><rect x="219.48" y="232.8" width="1.35" height="0.8"/><rect x="224.63" y="240.8" width="1.35" height="1.7"/><rect x="226.35" y="234.8" width="1.35" height="5.9"/><rect x="229.78" y="233.2" width="1.35" height="6.5"/><rect x="233.22" y="227.7" width="1.35" height="6.3"/><rect x="245.25" y="278.5" width="1.35" height="2.3"/><rect x="248.68" y="266.6" width="1.35" height="14.5"/><rect x="252.12" y="267.8" width="1.35" height="5.1"/><rect x="253.84" y="264.7" width="1.35" height="3.1"/><rect x="255.56" y="255.6" width="1.35" height="9.1"/><rect x="257.27" y="251.3" width="1.35" height="4.3"/><rect x="258.99" y="233.3" width="1.35" height="18.0"/><rect x="264.14" y="234.5" width="1.35" height="6.6"/><rect x="267.58" y="227.0" width="1.35" height="10.5"/><rect x="269.30" y="223.4" width="1.35" height="3.6"/><rect x="272.73" y="233.4" width="1.35" height="0.8"/><rect x="277.89" y="259.6" width="1.35" height="6.2"/><rect x="279.61" y="253.8" width="1.35" height="5.8"/><rect x="281.32" y="252.8" width="1.35" height="1.1"/><rect x="283.04" y="251.7" width="1.35" height="1.0"/><rect x="284.76" y="251.6" width="1.35" height="0.8"/><rect x="298.50" y="322.5" width="1.35" height="28.6"/><rect x="300.22" y="307.8" width="1.35" height="14.8"/><rect x="305.38" y="320.4" width="1.35" height="8.1"/><rect x="307.09" y="304.9" width="1.35" height="15.5"/><rect x="313.97" y="322.2" width="1.35" height="2.7"/><rect x="315.69" y="313.2" width="1.35" height="9.0"/><rect x="319.12" y="317.4" width="1.35" height="4.9"/><rect x="324.27" y="306.9" width="1.35" height="12.0"/><rect x="325.99" y="298.4" width="1.35" height="8.5"/><rect x="329.43" y="303.6" width="1.35" height="2.1"/><rect x="334.58" y="329.1" width="1.35" height="8.9"/><rect x="338.02" y="323.1" width="1.35" height="6.2"/><rect x="343.17" y="322.9" width="1.35" height="9.8"/><rect x="346.61" y="341.3" width="1.35" height="0.8"/><rect x="351.76" y="358.4" width="1.35" height="6.0"/><rect x="353.48" y="353.5" width="1.35" height="4.8"/><rect x="356.92" y="337.9" width="1.35" height="18.8"/><rect x="360.35" y="341.4" width="1.35" height="3.8"/><rect x="362.07" y="340.2" width="1.35" height="1.2"/><rect x="367.23" y="353.2" width="1.35" height="5.9"/><rect x="368.94" y="352.1" width="1.35" height="1.1"/><rect x="370.66" y="344.7" width="1.35" height="7.4"/><rect x="372.38" y="342.7" width="1.35" height="2.0"/><rect x="374.10" y="321.5" width="1.35" height="21.2"/><rect x="377.53" y="314.3" width="1.35" height="10.9"/><rect x="380.97" y="307.9" width="1.35" height="12.7"/><rect x="384.40" y="315.4" width="1.35" height="1.4"/><rect x="386.12" y="305.8" width="1.35" height="9.6"/><rect x="396.43" y="343.3" width="1.35" height="4.3"/><rect x="398.15" y="341.9" width="1.35" height="1.3"/><rect x="401.58" y="338.5" width="1.35" height="5.0"/><rect x="405.02" y="341.0" width="1.35" height="0.9"/><rect x="408.46" y="334.3" width="1.35" height="6.9"/><rect x="411.89" y="333.1" width="1.35" height="5.3"/><rect x="413.61" y="322.2" width="1.35" height="10.9"/><rect x="415.33" y="316.7" width="1.35" height="5.5"/><rect x="417.05" y="315.7" width="1.35" height="1.0"/><rect x="420.48" y="310.3" width="1.35" height="16.2"/><rect x="422.20" y="309.4" width="1.35" height="0.9"/><rect x="425.64" y="305.6" width="1.35" height="10.2"/><rect x="429.07" y="309.5" width="1.35" height="5.1"/><rect x="435.94" y="333.8" width="1.35" height="2.1"/><rect x="437.66" y="327.4" width="1.35" height="6.4"/><rect x="439.38" y="317.1" width="1.35" height="10.3"/><rect x="441.10" y="315.7" width="1.35" height="1.4"/><rect x="446.25" y="329.9" width="1.35" height="0.8"/><rect x="453.12" y="311.6" width="1.35" height="28.5"/><rect x="454.84" y="287.7" width="1.35" height="23.9"/><rect x="456.56" y="287.2" width="1.35" height="0.8"/><rect x="458.28" y="278.6" width="1.35" height="8.6"/><rect x="460.00" y="261.9" width="1.35" height="16.6"/><rect x="461.71" y="251.3" width="1.35" height="10.6"/><rect x="463.43" y="246.7" width="1.35" height="4.6"/><rect x="466.87" y="256.9" width="1.35" height="1.1"/><rect x="472.02" y="265.6" width="1.35" height="5.2"/><rect x="473.74" y="264.4" width="1.35" height="1.1"/><rect x="477.18" y="255.9" width="1.35" height="11.2"/><rect x="480.61" y="241.7" width="1.35" height="30.0"/><rect x="484.05" y="236.7" width="1.35" height="9.1"/><rect x="490.92" y="226.0" width="1.35" height="24.3"/><rect x="492.64" y="217.1" width="1.35" height="8.9"/><rect x="496.07" y="212.4" width="1.35" height="9.4"/><rect x="499.51" y="216.6" width="1.35" height="3.5"/><rect x="501.23" y="207.3" width="1.35" height="9.3"/><rect x="502.95" y="204.9" width="1.35" height="2.4"/><rect x="504.66" y="195.7" width="1.35" height="9.2"/><rect x="506.38" y="188.8" width="1.35" height="6.9"/><rect x="513.25" y="219.3" width="1.35" height="0.8"/><rect x="514.97" y="203.2" width="1.35" height="16.1"/><rect x="518.41" y="200.9" width="1.35" height="3.8"/><rect x="520.13" y="200.6" width="1.35" height="0.8"/><rect x="521.85" y="198.8" width="1.35" height="1.7"/><rect x="523.56" y="191.0" width="1.35" height="7.8"/><rect x="530.44" y="234.8" width="1.35" height="4.1"/><rect x="535.59" y="236.0" width="1.35" height="17.6"/><rect x="537.31" y="227.6" width="1.35" height="8.4"/><rect x="540.74" y="234.7" width="1.35" height="0.8"/><rect x="545.90" y="237.7" width="1.35" height="13.3"/><rect x="549.33" y="240.1" width="1.35" height="9.7"/><rect x="551.05" y="231.7" width="1.35" height="8.4"/><rect x="554.49" y="217.7" width="1.35" height="16.9"/><rect x="559.64" y="216.7" width="1.35" height="5.2"/><rect x="564.79" y="247.9" width="1.35" height="2.5"/><rect x="568.23" y="248.7" width="1.35" height="6.9"/><rect x="573.38" y="251.8" width="1.35" height="8.3"/><rect x="575.10" y="238.8" width="1.35" height="13.1"/><rect x="576.82" y="236.6" width="1.35" height="2.1"/><rect x="583.69" y="238.8" width="1.35" height="24.3"/><rect x="588.85" y="250.0" width="1.35" height="0.8"/><rect x="599.15" y="254.9" width="1.35" height="14.9"/><rect x="600.87" y="241.3" width="1.35" height="13.6"/><rect x="611.18" y="301.0" width="1.35" height="0.8"/><rect x="616.34" y="311.7" width="1.35" height="3.1"/><rect x="619.77" y="308.7" width="1.35" height="5.6"/><rect x="621.49" y="304.4" width="1.35" height="4.4"/><rect x="630.08" y="312.2" width="1.35" height="1.3"/><rect x="633.51" y="310.7" width="1.35" height="2.2"/><rect x="635.23" y="302.4" width="1.35" height="8.3"/><rect x="638.67" y="301.4" width="1.35" height="1.8"/><rect x="652.41" y="352.4" width="1.35" height="13.4"/><rect x="654.13" y="336.1" width="1.35" height="16.3"/><rect x="657.57" y="371.1" width="1.35" height="2.7"/><rect x="659.28" y="367.5" width="1.35" height="3.5"/><rect x="661.00" y="366.3" width="1.35" height="1.3"/><rect x="662.72" y="366.1" width="1.35" height="0.8"/><rect x="669.59" y="412.7" width="1.35" height="4.1"/><rect x="671.31" y="412.1" width="1.35" height="0.8"/><rect x="673.03" y="407.8" width="1.35" height="4.4"/><rect x="674.75" y="407.0" width="1.35" height="0.8"/><rect x="676.47" y="406.7" width="1.35" height="0.8"/><rect x="679.90" y="405.9" width="1.35" height="2.6"/><rect x="681.62" y="403.9" width="1.35" height="2.0"/><rect x="683.34" y="394.2" width="1.35" height="9.7"/><rect x="688.49" y="393.3" width="1.35" height="12.5"/><rect x="690.21" y="387.4" width="1.35" height="5.8"/><rect x="691.93" y="383.7" width="1.35" height="3.7"/><rect x="697.08" y="407.1" width="1.35" height="3.4"/><rect x="700.52" y="421.3" width="1.35" height="8.0"/><rect x="703.95" y="413.2" width="1.35" height="10.3"/><rect x="710.83" y="424.9" width="1.35" height="6.3"/><rect x="712.54" y="423.8" width="1.35" height="1.1"/><rect x="715.98" y="460.5" width="1.35" height="12.0"/><rect x="717.70" y="450.8" width="1.35" height="9.7"/><rect x="724.57" y="459.4" width="1.35" height="12.9"/><rect x="726.29" y="458.6" width="1.35" height="0.8"/><rect x="731.44" y="468.2" width="1.35" height="3.6"/><rect x="733.16" y="462.3" width="1.35" height="5.9"/><rect x="736.60" y="462.7" width="1.35" height="4.4"/><rect x="740.03" y="434.7" width="1.35" height="33.7"/><rect x="743.47" y="429.1" width="1.35" height="8.4"/><rect x="746.90" y="430.8" width="1.35" height="4.5"/><rect x="748.62" y="430.7" width="1.35" height="0.8"/><rect x="750.34" y="429.5" width="1.35" height="1.2"/><rect x="752.06" y="426.9" width="1.35" height="2.6"/><rect x="755.49" y="427.3" width="1.35" height="1.9"/><rect x="757.21" y="423.1" width="1.35" height="4.2"/><rect x="767.52" y="361.0" width="1.35" height="70.5"/><rect x="769.24" y="340.3" width="1.35" height="20.7"/><rect x="770.96" y="324.1" width="1.35" height="16.2"/><rect x="774.39" y="324.2" width="1.35" height="9.2"/><rect x="776.11" y="321.8" width="1.35" height="2.4"/></g><g fill="#151515"><rect x="9.88" y="279.1" width="1.35" height="5.0"/><rect x="11.60" y="284.1" width="1.35" height="3.4"/><rect x="16.75" y="261.8" width="1.35" height="4.8"/><rect x="21.91" y="243.4" width="1.35" height="1.4"/><rect x="35.65" y="197.4" width="1.35" height="5.7"/><rect x="39.09" y="197.5" width="1.35" height="6.4"/><rect x="44.24" y="189.6" width="1.35" height="0.8"/><rect x="45.96" y="190.2" width="1.35" height="13.8"/><rect x="49.40" y="196.1" width="1.35" height="13.9"/><rect x="51.11" y="209.9" width="1.35" height="8.7"/><rect x="52.83" y="218.6" width="1.35" height="15.6"/><rect x="56.27" y="229.1" width="1.35" height="31.0"/><rect x="61.42" y="230.5" width="1.35" height="13.1"/><rect x="64.86" y="229.4" width="1.35" height="0.8"/><rect x="68.29" y="223.2" width="1.35" height="7.8"/><rect x="71.73" y="224.2" width="1.35" height="8.8"/><rect x="76.88" y="221.8" width="1.35" height="9.7"/><rect x="78.60" y="231.6" width="1.35" height="17.4"/><rect x="82.04" y="246.8" width="1.35" height="3.3"/><rect x="92.34" y="217.2" width="1.35" height="14.4"/><rect x="97.50" y="228.5" width="1.35" height="25.2"/><rect x="99.22" y="253.7" width="1.35" height="22.2"/><rect x="102.65" y="263.8" width="1.35" height="5.7"/><rect x="106.09" y="265.9" width="1.35" height="14.9"/><rect x="111.24" y="258.2" width="1.35" height="8.1"/><rect x="114.68" y="259.4" width="1.35" height="8.6"/><rect x="118.11" y="249.4" width="1.35" height="17.1"/><rect x="124.99" y="247.7" width="1.35" height="7.3"/><rect x="126.70" y="255.1" width="1.35" height="5.6"/><rect x="128.42" y="260.6" width="1.35" height="20.0"/><rect x="138.73" y="266.1" width="1.35" height="11.5"/><rect x="142.17" y="272.7" width="1.35" height="7.1"/><rect x="143.88" y="279.7" width="1.35" height="3.6"/><rect x="145.60" y="283.4" width="1.35" height="2.1"/><rect x="147.32" y="285.4" width="1.35" height="2.2"/><rect x="150.76" y="277.3" width="1.35" height="6.7"/><rect x="166.22" y="206.3" width="1.35" height="2.3"/><rect x="171.37" y="201.8" width="1.35" height="10.2"/><rect x="174.81" y="196.5" width="1.35" height="4.4"/><rect x="176.53" y="200.9" width="1.35" height="7.6"/><rect x="178.25" y="208.4" width="1.35" height="0.8"/><rect x="179.96" y="208.8" width="1.35" height="5.0"/><rect x="185.12" y="207.5" width="1.35" height="9.3"/><rect x="188.55" y="209.7" width="1.35" height="0.8"/><rect x="191.99" y="202.9" width="1.35" height="7.4"/><rect x="193.71" y="210.2" width="1.35" height="3.5"/><rect x="195.43" y="213.7" width="1.35" height="0.8"/><rect x="197.14" y="213.9" width="1.35" height="4.6"/><rect x="198.86" y="218.5" width="1.35" height="3.7"/><rect x="202.30" y="219.3" width="1.35" height="18.7"/><rect x="205.73" y="224.1" width="1.35" height="1.2"/><rect x="207.45" y="225.3" width="1.35" height="4.2"/><rect x="209.17" y="229.4" width="1.35" height="2.8"/><rect x="210.89" y="232.3" width="1.35" height="3.4"/><rect x="216.04" y="229.0" width="1.35" height="3.5"/><rect x="217.76" y="232.5" width="1.35" height="0.8"/><rect x="221.19" y="232.8" width="1.35" height="7.3"/><rect x="222.91" y="240.1" width="1.35" height="2.4"/><rect x="228.07" y="234.8" width="1.35" height="4.9"/><rect x="231.50" y="233.2" width="1.35" height="0.8"/><rect x="234.94" y="227.7" width="1.35" height="7.7"/><rect x="236.66" y="235.4" width="1.35" height="10.1"/><rect x="238.38" y="245.5" width="1.35" height="4.9"/><rect x="240.09" y="250.4" width="1.35" height="23.5"/><rect x="241.81" y="273.9" width="1.35" height="0.8"/><rect x="243.53" y="274.7" width="1.35" height="6.1"/><rect x="246.97" y="278.5" width="1.35" height="2.6"/><rect x="250.40" y="266.6" width="1.35" height="6.3"/><rect x="260.71" y="233.3" width="1.35" height="1.5"/><rect x="262.43" y="234.7" width="1.35" height="6.4"/><rect x="265.86" y="234.5" width="1.35" height="3.0"/><rect x="271.02" y="223.4" width="1.35" height="10.4"/><rect x="274.45" y="233.4" width="1.35" height="13.2"/><rect x="276.17" y="246.6" width="1.35" height="19.2"/><rect x="286.48" y="251.6" width="1.35" height="4.9"/><rect x="288.20" y="256.5" width="1.35" height="1.8"/><rect x="289.92" y="258.3" width="1.35" height="12.7"/><rect x="291.63" y="271.0" width="1.35" height="23.8"/><rect x="293.35" y="294.8" width="1.35" height="16.4"/><rect x="295.07" y="311.2" width="1.35" height="30.7"/><rect x="296.79" y="341.9" width="1.35" height="9.3"/><rect x="301.94" y="307.8" width="1.35" height="8.9"/><rect x="303.66" y="316.7" width="1.35" height="11.8"/><rect x="308.81" y="304.9" width="1.35" height="6.7"/><rect x="310.53" y="311.6" width="1.35" height="7.0"/><rect x="312.25" y="318.5" width="1.35" height="6.3"/><rect x="317.40" y="313.2" width="1.35" height="9.0"/><rect x="320.84" y="317.4" width="1.35" height="0.8"/><rect x="322.56" y="317.8" width="1.35" height="1.0"/><rect x="327.71" y="298.4" width="1.35" height="7.3"/><rect x="331.15" y="303.6" width="1.35" height="15.9"/><rect x="332.87" y="319.4" width="1.35" height="18.6"/><rect x="336.30" y="329.1" width="1.35" height="0.8"/><rect x="339.74" y="323.1" width="1.35" height="9.4"/><rect x="341.45" y="332.6" width="1.35" height="0.8"/><rect x="344.89" y="322.9" width="1.35" height="18.5"/><rect x="348.33" y="341.3" width="1.35" height="8.8"/><rect x="350.05" y="350.1" width="1.35" height="14.3"/><rect x="355.20" y="353.5" width="1.35" height="3.2"/><rect x="358.63" y="337.9" width="1.35" height="7.3"/><rect x="363.79" y="340.2" width="1.35" height="3.2"/><rect x="365.51" y="343.3" width="1.35" height="15.8"/><rect x="375.81" y="321.5" width="1.35" height="3.7"/><rect x="379.25" y="314.3" width="1.35" height="6.4"/><rect x="382.69" y="307.9" width="1.35" height="8.9"/><rect x="387.84" y="305.8" width="1.35" height="7.5"/><rect x="389.56" y="313.3" width="1.35" height="1.2"/><rect x="391.28" y="314.6" width="1.35" height="20.6"/><rect x="393.00" y="335.2" width="1.35" height="8.3"/><rect x="394.71" y="343.5" width="1.35" height="4.0"/><rect x="399.87" y="341.9" width="1.35" height="1.6"/><rect x="403.30" y="338.5" width="1.35" height="3.3"/><rect x="406.74" y="341.0" width="1.35" height="0.8"/><rect x="410.18" y="334.3" width="1.35" height="4.1"/><rect x="418.76" y="315.7" width="1.35" height="10.7"/><rect x="423.92" y="309.4" width="1.35" height="6.4"/><rect x="427.36" y="305.6" width="1.35" height="9.0"/><rect x="430.79" y="309.5" width="1.35" height="20.5"/><rect x="432.51" y="330.0" width="1.35" height="5.3"/><rect x="434.23" y="335.3" width="1.35" height="0.8"/><rect x="442.82" y="315.7" width="1.35" height="4.9"/><rect x="444.53" y="320.6" width="1.35" height="9.4"/><rect x="447.97" y="329.9" width="1.35" height="3.5"/><rect x="449.69" y="333.4" width="1.35" height="3.3"/><rect x="451.41" y="336.7" width="1.35" height="3.4"/><rect x="465.15" y="246.7" width="1.35" height="11.3"/><rect x="468.59" y="256.9" width="1.35" height="12.1"/><rect x="470.31" y="269.0" width="1.35" height="1.7"/><rect x="475.46" y="264.4" width="1.35" height="2.7"/><rect x="478.89" y="255.9" width="1.35" height="15.8"/><rect x="482.33" y="241.7" width="1.35" height="4.1"/><rect x="485.77" y="236.7" width="1.35" height="4.9"/><rect x="487.49" y="241.6" width="1.35" height="1.7"/><rect x="489.20" y="243.3" width="1.35" height="7.0"/><rect x="494.36" y="217.1" width="1.35" height="4.7"/><rect x="497.79" y="212.4" width="1.35" height="7.7"/><rect x="508.10" y="188.8" width="1.35" height="1.7"/><rect x="509.82" y="190.5" width="1.35" height="13.4"/><rect x="511.54" y="203.9" width="1.35" height="15.5"/><rect x="516.69" y="203.2" width="1.35" height="1.4"/><rect x="525.28" y="191.0" width="1.35" height="14.7"/><rect x="527.00" y="205.7" width="1.35" height="12.0"/><rect x="528.72" y="217.7" width="1.35" height="21.2"/><rect x="532.15" y="234.8" width="1.35" height="16.2"/><rect x="533.87" y="251.0" width="1.35" height="2.6"/><rect x="539.02" y="227.6" width="1.35" height="7.6"/><rect x="542.46" y="234.7" width="1.35" height="13.7"/><rect x="544.18" y="248.4" width="1.35" height="2.6"/><rect x="547.62" y="237.7" width="1.35" height="12.1"/><rect x="552.77" y="231.7" width="1.35" height="2.9"/><rect x="556.21" y="217.7" width="1.35" height="1.7"/><rect x="557.92" y="219.4" width="1.35" height="2.5"/><rect x="561.36" y="216.7" width="1.35" height="21.9"/><rect x="563.08" y="238.6" width="1.35" height="11.9"/><rect x="566.51" y="247.9" width="1.35" height="7.7"/><rect x="569.95" y="248.7" width="1.35" height="4.5"/><rect x="571.67" y="253.2" width="1.35" height="6.9"/><rect x="578.54" y="236.6" width="1.35" height="4.9"/><rect x="580.26" y="241.5" width="1.35" height="7.9"/><rect x="581.98" y="249.4" width="1.35" height="13.6"/><rect x="585.41" y="238.8" width="1.35" height="4.2"/><rect x="587.13" y="242.9" width="1.35" height="7.3"/><rect x="590.56" y="250.0" width="1.35" height="0.9"/><rect x="592.28" y="250.8" width="1.35" height="2.7"/><rect x="594.00" y="253.5" width="1.35" height="8.3"/><rect x="595.72" y="261.8" width="1.35" height="2.1"/><rect x="597.44" y="263.9" width="1.35" height="6.0"/><rect x="602.59" y="241.3" width="1.35" height="16.3"/><rect x="604.31" y="257.6" width="1.35" height="9.3"/><rect x="606.03" y="266.9" width="1.35" height="31.2"/><rect x="607.75" y="298.1" width="1.35" height="0.8"/><rect x="609.46" y="298.5" width="1.35" height="3.2"/><rect x="612.90" y="301.0" width="1.35" height="8.3"/><rect x="614.62" y="309.3" width="1.35" height="5.5"/><rect x="618.05" y="311.7" width="1.35" height="2.6"/><rect x="623.21" y="304.4" width="1.35" height="3.4"/><rect x="624.92" y="307.7" width="1.35" height="0.8"/><rect x="626.64" y="308.4" width="1.35" height="2.9"/><rect x="628.36" y="311.3" width="1.35" height="2.2"/><rect x="631.80" y="312.2" width="1.35" height="0.8"/><rect x="636.95" y="302.4" width="1.35" height="0.8"/><rect x="640.39" y="301.4" width="1.35" height="15.5"/><rect x="642.11" y="316.9" width="1.35" height="21.8"/><rect x="643.82" y="338.7" width="1.35" height="0.8"/><rect x="645.54" y="339.4" width="1.35" height="1.9"/><rect x="647.26" y="341.3" width="1.35" height="10.0"/><rect x="648.98" y="351.2" width="1.35" height="13.2"/><rect x="650.69" y="364.4" width="1.35" height="1.4"/><rect x="655.85" y="336.1" width="1.35" height="37.7"/><rect x="664.44" y="366.1" width="1.35" height="31.4"/><rect x="666.16" y="397.5" width="1.35" height="14.3"/><rect x="667.88" y="411.8" width="1.35" height="5.0"/><rect x="678.18" y="406.7" width="1.35" height="1.8"/><rect x="685.05" y="394.2" width="1.35" height="11.3"/><rect x="686.77" y="405.4" width="1.35" height="0.8"/><rect x="693.64" y="383.7" width="1.35" height="18.2"/><rect x="695.36" y="401.9" width="1.35" height="8.6"/><rect x="698.80" y="407.1" width="1.35" height="22.2"/><rect x="702.24" y="421.3" width="1.35" height="2.2"/><rect x="705.67" y="413.2" width="1.35" height="9.5"/><rect x="707.39" y="422.7" width="1.35" height="4.0"/><rect x="709.11" y="426.7" width="1.35" height="4.5"/><rect x="714.26" y="423.8" width="1.35" height="48.7"/><rect x="719.41" y="450.8" width="1.35" height="16.0"/><rect x="721.13" y="466.8" width="1.35" height="2.6"/><rect x="722.85" y="469.3" width="1.35" height="3.0"/><rect x="728.00" y="458.6" width="1.35" height="7.2"/><rect x="729.72" y="465.8" width="1.35" height="6.1"/><rect x="734.88" y="462.3" width="1.35" height="4.9"/><rect x="738.31" y="462.7" width="1.35" height="5.7"/><rect x="741.75" y="434.7" width="1.35" height="2.8"/><rect x="745.18" y="429.1" width="1.35" height="6.2"/><rect x="753.77" y="426.9" width="1.35" height="2.3"/><rect x="758.93" y="423.1" width="1.35" height="2.3"/><rect x="760.65" y="425.4" width="1.35" height="0.8"/><rect x="762.37" y="426.2" width="1.35" height="0.8"/><rect x="764.08" y="426.6" width="1.35" height="0.8"/><rect x="765.80" y="427.3" width="1.35" height="4.2"/><rect x="772.67" y="324.1" width="1.35" height="9.2"/><rect x="777.83" y="311.0" width="1.35" height="5.5"/></g><rect x="680.2" y="389" width="275.1" height="28" fill="rgb(174,29,43)" fill-opacity="0.42"/><line x1="680.2" y1="402.8" x2="864" y2="402.8" stroke="#f3dadd" stroke-width="1" stroke-dasharray="3,3"/><polyline points="706.6,412 706.6,404.3 768,404.3" fill="none" stroke="#4a3a3c" stroke-width="0.9" stroke-dasharray="3,2.5"/><text x="867.3" y="405.4" font-size="7.6" font-weight="bold" fill="#1e1e1e" textLength="85.4" lengthAdjust="spacingAndGlyphs">Weekly Bullish Breaker</text><line x1="42" y1="185.4" x2="1048.3" y2="185.4" stroke="#1c1c1c" stroke-width="1.3"/><line x1="1136.7" y1="185.4" x2="1140" y2="185.4" stroke="#1c1c1c" stroke-width="1.3"/><text x="1052.7" y="189.3" font-size="9.6" font-weight="bold" fill="#213e35" textLength="81.3" lengthAdjust="spacingAndGlyphs">Buy-Side Liquidity</text><line x1="462.4" y1="277.4" x2="1043.6" y2="277.4" stroke="#1c1c1c" stroke-width="1.3"/><line x1="1136.7" y1="277.4" x2="1140" y2="277.4" stroke="#1c1c1c" stroke-width="1.3"/><text x="1047" y="281.3" font-size="9.6" font-weight="bold" fill="#213e35" textLength="87" lengthAdjust="spacingAndGlyphs">Psychological Level</text><line x1="638.7" y1="313.7" x2="688" y2="313.7" stroke="#b7272f" stroke-width="1.3"/><line x1="730" y1="313.7" x2="778" y2="313.7" stroke="#b7272f" stroke-width="1.3"/><text x="691" y="316.5" font-size="7.6" font-weight="bold" fill="#1e1e1e" textLength="36.3" lengthAdjust="spacingAndGlyphs">Short POI</text><polyline points="787.5,336.1 823.6,394.7 859.7,316.7 883.7,337 908.9,290.9" fill="none" stroke="#1a1a1a" stroke-width="0.9"/><polyline points="903.3,291.5 908.9,290.9 909.5,295.9" fill="none" stroke="#1a1a1a" stroke-width="0.9"/><polyline points="931.7,284.2 943.9,261.4 968,291.1 980.2,250.5 992.2,264.6 1016.5,189.2" fill="none" stroke="#1a1a1a" stroke-width="0.9"/><polyline points="1011.8,191.4 1016.5,189.2 1018.7,193.5" fill="none" stroke="#1a1a1a" stroke-width="0.9"/><rect x="1140.2" y="179.2" width="48.2" height="12.4" fill="#000"/><text x="1146.6" y="189.0" font-size="10" fill="#fff" textLength="37.7" lengthAdjust="spacingAndGlyphs">4,093.92</text><rect x="1140.2" y="271.5" width="48.2" height="12.1" fill="#000"/><text x="1146.6" y="281.0" font-size="10" fill="#fff" textLength="37.7" lengthAdjust="spacingAndGlyphs">3,000.00</text><rect x="1140.2" y="310.6" width="48.2" height="23.0" fill="#000"/><text x="1146.6" y="319.6" font-size="10" fill="#fff" textLength="37.7" lengthAdjust="spacingAndGlyphs">2,629.11</text><text x="1146.6" y="329.8" font-size="10" fill="#fff" textLength="37.7" lengthAdjust="spacingAndGlyphs">12:14:57</text><rect x="1140.2" y="441.8" width="48.2" height="12.0" fill="#000"/><text x="1146.6" y="451.3" font-size="10" fill="#fff" textLength="37.7" lengthAdjust="spacingAndGlyphs">1,689.00</text><rect x="1140.2" y="500.6" width="48.2" height="12.0" fill="#000"/><text x="1146.6" y="510.1" font-size="10" fill="#fff" textLength="37.7" lengthAdjust="spacingAndGlyphs">1,385.05</text><text x="24.3" y="623.2" font-size="9.6" fill="#44464c" text-anchor="middle">Mar</text><text x="77.7" y="623.2" font-size="9.6" fill="#44464c" text-anchor="middle">Apr</text><text x="129" y="623.2" font-size="9.6" fill="#44464c" text-anchor="middle">May</text><text x="182.7" y="623.2" font-size="9.6" fill="#44464c" text-anchor="middle">Jun</text><text x="234" y="623.2" font-size="9.6" fill="#44464c" text-anchor="middle">Jul</text><text x="287.3" y="623.2" font-size="9.6" fill="#44464c" text-anchor="middle">Aug</text><text x="340.3" y="623.2" font-size="9.6" fill="#44464c" text-anchor="middle">Sep</text><text x="391.7" y="623.2" font-size="9.6" fill="#44464c" text-anchor="middle">Oct</text><text x="445.3" y="623.2" font-size="9.6" fill="#44464c" text-anchor="middle">Nov</text><text x="497.3" y="623.2" font-size="9.6" fill="#44464c" text-anchor="middle">Dec</text><text x="550" y="623.2" font-size="9.6" fill="#44464c" text-anchor="middle" font-weight="bold">2025</text><text x="603.3" y="623.2" font-size="9.6" fill="#44464c" text-anchor="middle">Feb</text><text x="651.3" y="623.2" font-size="9.6" fill="#44464c" text-anchor="middle">Mar</text><text x="704.7" y="623.2" font-size="9.6" fill="#44464c" text-anchor="middle">Apr</text><text x="756.7" y="623.2" font-size="9.6" fill="#44464c" text-anchor="middle">May</text><text x="810" y="623.2" font-size="9.6" fill="#44464c" text-anchor="middle">Jun</text><text x="861.3" y="623.2" font-size="9.6" fill="#44464c" text-anchor="middle">Jul</text><text x="914" y="623.2" font-size="9.6" fill="#44464c" text-anchor="middle">Aug</text><text x="967.3" y="623.2" font-size="9.6" fill="#44464c" text-anchor="middle">Sep</text><text x="1019.3" y="623.2" font-size="9.6" fill="#44464c" text-anchor="middle">Oct</text><text x="1072.7" y="623.2" font-size="9.6" fill="#44464c" text-anchor="middle">Nov</text><text x="1124" y="623.2" font-size="9.6" fill="#44464c" text-anchor="middle">Dec</text><g fill="#111"><path d="M7.3 638.6h6v7.2h-3.1v-4.6h-2.9z"/><circle cx="15.3" cy="640" r="1.35"/><path d="M17.6 638.6h3.9l-3.7 7.2h-3z"/></g><text x="25" y="646.7" font-size="9.7" fill="#222" textLength="54.2" lengthAdjust="spacing">TradingView</text></svg></body></html>
